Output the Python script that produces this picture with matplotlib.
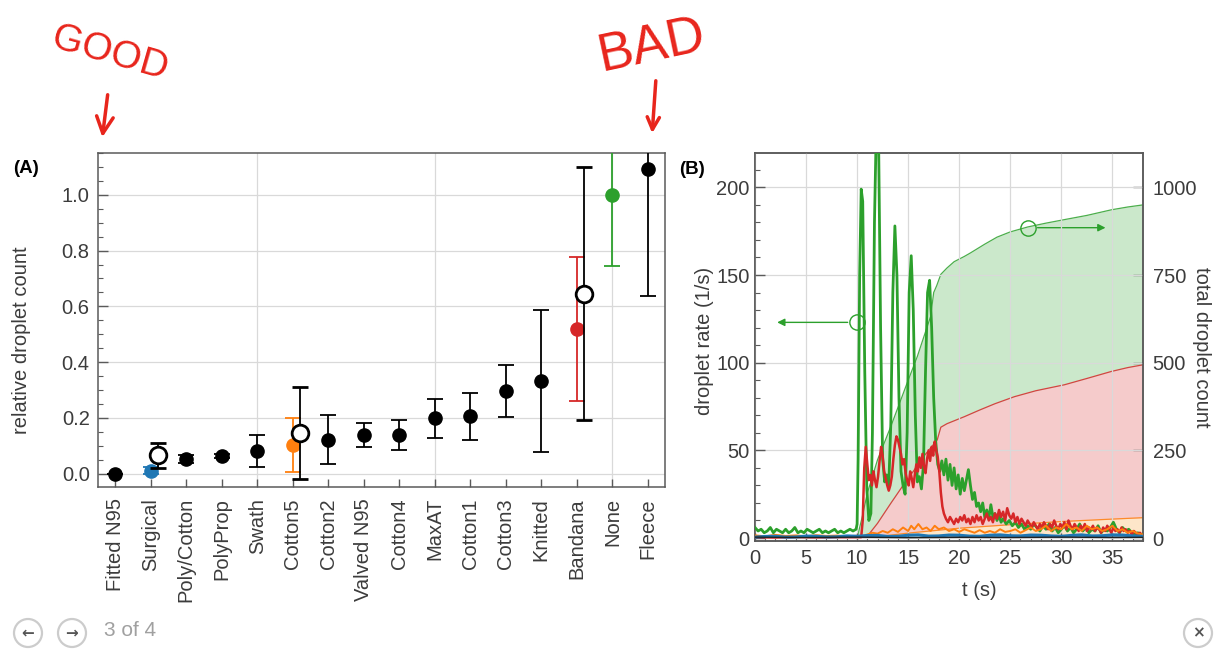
import numpy as np
import matplotlib
matplotlib.use('Agg')
import matplotlib.pyplot as plt
from matplotlib.ticker import MultipleLocator
from matplotlib.patches import Circle

plt.rcParams['font.family'] = ['Liberation Sans', 'DejaVu Sans']

# ---- (A) relative droplet count per mask ----
masks = ['Fitted N95', 'Surgical', 'Poly/Cotton', 'PolyProp', 'Swath', 'Cotton5', 'Cotton2',
         'Valved N95', 'Cotton4', 'MaxAT', 'Cotton1', 'Cotton3', 'Knitted', 'Bandana', 'None', 'Fleece']
rel_mean = [0.0, 0.01, 0.052, 0.062, 0.082, 0.104, 0.122, 0.139, 0.14, 0.199, 0.206, 0.296, 0.332, 0.517, 1.0, 1.092]
rel_low = [0.0, 0.0, 0.038, 0.055, 0.025, 0.005, 0.035, 0.097, 0.086, 0.128, 0.122, 0.203, 0.077, 0.26, 0.745, 0.638]
rel_high = [0.0, 0.022, 0.068, 0.07, 0.14, 0.2, 0.21, 0.181, 0.193, 0.269, 0.29, 0.388, 0.586, 0.776, 1.25, 1.5]

# second measurement (open circles)
open_masks = ['Surgical', 'Cotton5', 'Bandana']
open_mean = [0.065, 0.147, 0.646]
open_low = [0.02, -0.018, 0.194]
open_high = [0.109, 0.31, 1.098]

# ---- (B) droplet rate (1/s) vs t (s) ----
green_rate = [(0.0, 6), (0.3, 4), (0.6, 5), (0.9, 3), (1.2, 4), (1.5, 6), (1.8, 3), (2.1, 5), (2.4, 4), (2.7, 3),
              (3.0, 5), (3.3, 3), (3.6, 4), (3.9, 6), (4.2, 3), (4.5, 4), (4.8, 3), (5.1, 5), (5.4, 4), (5.7, 3),
              (6.0, 4), (6.3, 5), (6.6, 3), (6.9, 4), (7.2, 3), (7.5, 4), (7.8, 5), (8.1, 3), (8.4, 4), (8.7, 3),
              (9.0, 4), (9.3, 5), (9.6, 4), (9.9, 5), (10.0, 8), (10.1, 45), (10.25, 150), (10.4, 199),
              (10.55, 192), (10.75, 95), (10.95, 28), (11.15, 10), (11.35, 14), (11.5, 60), (11.7, 180),
              (11.9, 240), (12.1, 230), (12.3, 120), (12.5, 45), (12.7, 32), (12.9, 36), (13.1, 30),
              (13.3, 65), (13.5, 140), (13.7, 178), (13.9, 150), (14.1, 80), (14.3, 38), (14.5, 30),
              (14.7, 25), (14.9, 60), (15.1, 140), (15.3, 161), (15.5, 130), (15.7, 70), (15.9, 32),
              (16.1, 35), (16.3, 28), (16.5, 42), (16.7, 95), (16.9, 140), (17.1, 147), (17.3, 120),
              (17.5, 80), (17.7, 55), (17.9, 42), (18.1, 38), (18.3, 44), (18.5, 36), (18.7, 45), (18.9, 33),
              (19.1, 42), (19.3, 30), (19.5, 40), (19.7, 28), (19.9, 36), (20.1, 25), (20.3, 34), (20.5, 27),
              (20.7, 33), (20.9, 39), (21.1, 30), (21.3, 22), (21.5, 26), (21.7, 18), (21.9, 20), (22.1, 15),
              (22.3, 20), (22.5, 12), (22.7, 16), (22.9, 11), (23.1, 19), (23.3, 12), (23.5, 14), (23.7, 10),
              (23.9, 13), (24.1, 9), (24.3, 11), (24.6, 8), (24.9, 10), (25.2, 7), (25.5, 9), (25.8, 6),
              (26.1, 8), (26.4, 5), (26.7, 7), (27.0, 5), (27.3, 8), (27.6, 6), (27.9, 4), (28.2, 7), (28.5, 5),
              (28.8, 8), (29.1, 4), (29.4, 6), (29.7, 3), (30.0, 5), (30.3, 7), (30.6, 4), (30.9, 6), (31.2, 3),
              (31.5, 5), (31.8, 8), (32.1, 4), (32.4, 6), (32.7, 3), (33.0, 5), (33.3, 4), (33.6, 7), (33.9, 3),
              (34.2, 5), (34.5, 4), (34.8, 6), (35.1, 9), (35.4, 5), (35.7, 3), (36.0, 6), (36.3, 4), (36.6, 5),
              (36.9, 3), (37.2, 2), (37.5, 3), (37.8, 1), (38.0, 2)]

red_rate = [(0.0, 0.5), (2.0, 0.3), (4.0, 0.6), (6.0, 0.4), (8.0, 0.5), (10.4, 0.5), (10.55, 10), (10.7, 40),
            (10.85, 52), (11.0, 42), (11.15, 33), (11.3, 36), (11.45, 30), (11.6, 38), (11.75, 33), (11.9, 29),
            (12.05, 35), (12.2, 44), (12.35, 52), (12.5, 47), (12.65, 38), (12.8, 34), (12.95, 30), (13.1, 27),
            (13.25, 30), (13.4, 35), (13.55, 45), (13.7, 53), (13.85, 58), (14.0, 56), (14.15, 52), (14.3, 48),
            (14.45, 42), (14.6, 45), (14.75, 37), (14.9, 33), (15.05, 30), (15.2, 38), (15.35, 34), (15.5, 29),
            (15.65, 36), (15.8, 42), (15.95, 38), (16.1, 46), (16.25, 40), (16.4, 48), (16.55, 41), (16.7, 37),
            (16.85, 45), (17.0, 50), (17.15, 44), (17.3, 52), (17.45, 47), (17.6, 55), (17.75, 50), (17.9, 46),
            (18.05, 38), (18.2, 26), (18.35, 18), (18.5, 14), (18.7, 11), (18.9, 9), (19.1, 12), (19.3, 10),
            (19.5, 8), (19.7, 11), (19.9, 9), (20.1, 12), (20.3, 10), (20.5, 13), (20.7, 9), (20.9, 11),
            (21.1, 8), (21.3, 12), (21.5, 9), (21.7, 13), (21.9, 10), (22.1, 12), (22.3, 8), (22.5, 11),
            (22.7, 14), (22.9, 10), (23.1, 12), (23.3, 9), (23.5, 14), (23.7, 11), (23.9, 16), (24.1, 12),
            (24.3, 15), (24.5, 10), (24.7, 17), (24.9, 13), (25.1, 11), (25.3, 14), (25.5, 9), (25.7, 12),
            (25.9, 8), (26.1, 11), (26.3, 9), (26.5, 7), (26.7, 10), (26.9, 8), (27.1, 6), (27.3, 9), (27.5, 7),
            (27.7, 5), (27.9, 8), (28.1, 6), (28.3, 9), (28.5, 7), (28.7, 5), (28.9, 8), (29.1, 6), (29.3, 10),
            (29.5, 7), (29.7, 5), (29.9, 8), (30.1, 6), (30.3, 9), (30.5, 5), (30.7, 10), (30.9, 7), (31.1, 5),
            (31.3, 8), (31.5, 6), (31.7, 4), (31.9, 7), (32.1, 5), (32.3, 8), (32.5, 4), (32.7, 6), (32.9, 5),
            (33.1, 7), (33.3, 4), (33.5, 6), (33.7, 5), (33.9, 3), (34.1, 6), (34.3, 4), (34.5, 7), (34.7, 5),
            (34.9, 3), (35.1, 6), (35.3, 4), (35.5, 5), (35.7, 3), (35.9, 6), (36.1, 4), (36.3, 5), (36.5, 3),
            (36.7, 4), (36.9, 2), (37.1, 4), (37.3, 3), (37.5, 2), (37.7, 3), (38.0, 1)]

orange_rate = [(0, 1.5), (1, 1), (2, 1.8), (3, 1.2), (4, 1.5), (5, 1), (6, 1.6), (7, 1.2), (8, 1.4), (9, 1),
               (10, 1.3), (10.5, 1), (11, 2), (11.5, 3), (12, 2.5), (12.5, 4), (13, 3), (13.5, 5), (14, 3.5),
               (14.5, 6), (15, 4), (15.3, 7), (15.6, 5), (16, 8), (16.4, 5), (16.8, 6), (17.2, 4), (17.6, 7),
               (18, 5), (18.5, 6), (19, 4), (19.5, 5), (20, 3.5), (20.5, 5), (21, 4), (21.5, 3), (22, 4.5),
               (22.5, 3), (23, 4), (23.5, 3), (24, 5), (24.5, 3.5), (25, 4), (25.5, 5), (26, 3), (26.5, 4.5),
               (27, 6), (27.5, 4), (28, 5), (28.5, 7), (29, 4), (29.5, 6), (30, 5), (30.5, 8), (31, 5), (31.5, 6),
               (32, 4), (32.5, 7), (33, 5), (33.5, 6), (34, 4), (34.5, 5), (35, 7), (35.5, 4), (36, 5), (36.5, 3),
               (37, 4), (37.5, 2.5), (38, 2)]

blue_rate = [(0, 0.5), (1, 0.9), (2, 1), (3, 0.5), (4, 0.6), (5, 1.1), (6, 1), (7, 0.6), (8, 0.7), (9, 1.2),
             (10, 1), (11, 1.4), (12, 1.5), (13, 0.9), (14, 1), (15, 1.6), (16, 1.8), (17, 1.1), (18, 1.2),
             (19, 1.7), (20, 1.6), (21, 1.1), (22, 1), (23, 1.6), (24, 1.8), (25, 1.3), (26, 1.2), (27, 1.7),
             (28, 1.6), (29, 1.2), (30, 1), (31, 1.5), (32, 1.8), (33, 1.2), (34, 1.3), (35, 1.8), (36, 1.7),
             (37, 1.2), (38, 1)]

black_rate = [(0, 0.5), (5, 0.3), (10, 0.5), (15, 0.2), (20, 0.4), (25, 0.3), (30, 0.5), (35, 0.3), (38, 0.4)]

# ---- (B) total droplet count vs t (s) ----
green_total = [(0, 0), (10.0, 0), (10.5, 60), (11.0, 128), (12.0, 223), (13.3, 318), (14.9, 442), (15.9, 518),
               (17.2, 632), (17.5, 700), (17.8, 720), (18.2, 752), (18.8, 770), (19.5, 788), (20.5, 803),
               (21.1, 813), (22.5, 838), (23.7, 858), (25.0, 873), (26.7, 887), (28.5, 898), (30.3, 908),
               (32.5, 920), (34.9, 936), (36.5, 944), (38.0, 950)]
red_total = [(0, 0), (10.6, 0), (11.0, 5), (12.0, 42), (13.3, 99), (14.5, 150), (15.5, 190), (16.5, 232),
             (17.85, 280), (18.2, 316), (18.8, 326), (20.5, 346), (22.0, 365), (23.5, 383), (25.4, 403),
             (27.5, 420), (30.3, 437), (32.5, 455), (34.9, 475), (36.5, 486), (38.0, 494)]
orange_total = [(0, 0), (10.5, 0), (12, 4), (15, 14), (20, 28), (25, 38), (30, 47), (35, 54), (38, 58)]
blue_total = [(0, 0), (10, 1), (20, 3), (30, 5), (38, 6)]

W, H = 1221, 650
BLUE, ORANGE, GREEN, RED = '#1f77b4', '#ff7f0e', '#2ca02c', '#d62728'
TXT = '#3c3c3c'
SPINE = '#5a5a5a'
GRID = '#d9d9d9'
FS = 14.5


def px_box(l, t, r, b):
    return [l / W, 1 - b / H, (r - l) / W, (b - t) / H]


def style_spines(ax):
    for s in ax.spines.values():
        s.set_color(SPINE)
        s.set_linewidth(1.1)


fig = plt.figure(figsize=(W / 100, H / 100), dpi=100)

# ===================== panel A =====================
axA = fig.add_axes(px_box(98, 153, 665, 487))
xpos = np.arange(1, len(masks) + 1)
highlight = {'Surgical': BLUE, 'Cotton5': ORANGE, 'Bandana': RED, 'None': GREEN}

for xi, name, m, lo, hi in zip(xpos, masks, rel_mean, rel_low, rel_high):
    c = highlight.get(name, 'black')
    axA.errorbar(xi, m, yerr=[[m - lo], [hi - m]], fmt='o', color=c, ms=9.5,
                 elinewidth=1.3, capsize=6, capthick=1.3, zorder=3)

for name, m, lo, hi in zip(open_masks, open_mean, open_low, open_high):
    xi = masks.index(name) + 1 + 0.2
    axA.errorbar(xi, m, yerr=[[m - lo], [hi - m]], fmt='o', mfc='white', mec='black', mew=2,
                 ms=12, ecolor='black', elinewidth=1.3, capsize=6, capthick=1.3, zorder=4)

axA.set_xlim(0.52, 16.48)
axA.set_ylim(-0.048, 1.15)
axA.set_xticks(xpos)
axA.set_xticklabels(masks, rotation=90)
axA.set_yticks(np.arange(0, 1.01, 0.2))
axA.set_yticklabels(['%.1f' % v for v in np.arange(0, 1.01, 0.2)])
axA.yaxis.set_minor_locator(MultipleLocator(0.05))
axA.tick_params(axis='x', direction='in', length=6, width=1, color=SPINE, pad=8,
                labelsize=FS, labelcolor=TXT)
axA.tick_params(axis='y', which='major', direction='in', length=7, width=1, color=SPINE, pad=6,
                labelsize=FS, labelcolor=TXT)
axA.tick_params(axis='y', which='minor', direction='in', length=3.5, width=0.8, color=SPINE)
axA.grid(axis='y', which='major', color=GRID, lw=0.9, zorder=0)
for gx in (5, 10, 15):
    axA.axvline(gx, color=GRID, lw=0.9, zorder=0)
axA.set_axisbelow(True)
style_spines(axA)

# ===================== panel B =====================
axB = fig.add_axes(px_box(755, 153, 1143, 541))
axC = axB.twinx()
axB.set_zorder(axC.get_zorder() + 1)
axB.patch.set_visible(False)

# cumulative counts (right axis) with fills
fills = [(green_total, GREEN, '#cbe8cb'), (red_total, RED, '#f5cbcb'),
         (orange_total, ORANGE, '#fde6c9'), (blue_total, BLUE, '#cfe0ee')]
for series, lc, fc in fills:
    t, v = np.array(series, dtype=float).T
    axC.fill_between(t, 0, v, color=fc, lw=0, zorder=1)
for series, lc, fc in fills:
    t, v = np.array(series, dtype=float).T
    axC.plot(t, v, color=lc, lw=0.9, alpha=0.85, zorder=2)

# droplet rate (left axis)
for series, c, lw in [(green_rate, GREEN, 2.0), (red_rate, RED, 1.8), (orange_rate, ORANGE, 1.4),
                      (blue_rate, BLUE, 2.2), (black_rate, '#222222', 1.0)]:
    t, v = np.array(series, dtype=float).T
    axB.plot(t, v, color=c, lw=lw, zorder=3)

axB.set_xlim(0, 38)
axB.set_ylim(-1.7, 219.6)
axC.set_ylim(-8.5, 1098)
axB.set_xticks(np.arange(0, 36, 5))
axB.set_yticks(np.arange(0, 201, 50))
axC.set_yticks(np.arange(0, 1001, 250))
axB.xaxis.set_minor_locator(MultipleLocator(1))
axB.yaxis.set_minor_locator(MultipleLocator(10))
axB.tick_params(axis='x', which='major', direction='in', length=6, width=1, color=SPINE, pad=6,
                labelsize=FS, labelcolor=TXT)
axB.tick_params(axis='x', which='minor', direction='in', length=3, width=0.8, color=SPINE)
axB.tick_params(axis='y', which='major', direction='in', length=7, width=1, color=SPINE, pad=4,
                labelsize=FS, labelcolor=TXT)
axB.tick_params(axis='y', which='minor', direction='in', length=3.5, width=0.8, color=SPINE)
axC.tick_params(axis='y', direction='in', length=7, width=1, color=SPINE, pad=7,
                labelsize=FS, labelcolor=TXT)
axB.grid(which='major', color=GRID, lw=0.9, zorder=0)
style_spines(axB)
style_spines(axC)

# circle + arrow markers for which axis each curve belongs to
axB.plot(10, 123, 'o', mfc='none', mec=GREEN, ms=11, mew=1, zorder=5)
axB.annotate('', xy=(1.9, 123), xytext=(9.35, 123),
             arrowprops=dict(arrowstyle='-|>', color=GREEN, lw=1, mutation_scale=11), zorder=5)
axC.plot(26.7, 885, 'o', mfc='none', mec=GREEN, ms=11, mew=1, zorder=5)
axC.annotate('', xy=(34.6, 885), xytext=(27.4, 885),
             arrowprops=dict(arrowstyle='-|>', color=GREEN, lw=1, mutation_scale=11), zorder=5)

# axis labels and panel letters
fig.text(22 / W, 1 - 340 / H, 'relative droplet count', rotation=90, ha='center', va='center',
         fontsize=FS, color=TXT)
fig.text(705 / W, 1 - 341 / H, 'droplet rate (1/s)', rotation=90, ha='center', va='center',
         fontsize=FS, color=TXT)
fig.text(1201 / W, 1 - 347 / H, 'total droplet count', rotation=270, ha='center', va='center',
         fontsize=FS, color=TXT)
fig.text(979 / W, 1 - 591 / H, 't (s)', ha='center', va='center', fontsize=FS, color=TXT)
fig.text(26 / W, 1 - 168 / H, '(A)', ha='center', va='center', fontsize=13.5, fontweight='bold')
fig.text(692 / W, 1 - 170 / H, '(B)', ha='center', va='center', fontsize=13.5, fontweight='bold')

# ===================== overlay: hand notes and viewer controls =====================
ov = fig.add_axes([0, 0, 1, 1])
ov.set_xlim(0, W)
ov.set_ylim(H, 0)
ov.axis('off')
HAND = '#e8251c'
hand_font = ['Liberation Sans Narrow', 'Liberation Sans', 'DejaVu Sans']
ov.text(110, 54, 'GOOD', color=HAND, fontsize=28, family=hand_font, rotation=-16,
        ha='center', va='center')
ov.text(652, 46, 'BAD', color=HAND, fontsize=38, family=hand_font, rotation=12,
        ha='center', va='center')
ov.annotate('', xy=(102, 140), xytext=(108, 92),
            arrowprops=dict(arrowstyle='->', color=HAND, lw=2.5, mutation_scale=30))
ov.annotate('', xy=(652, 136), xytext=(656, 78),
            arrowprops=dict(arrowstyle='->', color=HAND, lw=2.5, mutation_scale=22))

for cx, glyph in [(28, '\u2190'), (72, '\u2192'), (1198, '\u00d7')]:
    ov.add_patch(Circle((cx, 633), 14, fill=False, ec='#cccccc', lw=1.6))
    ov.text(cx, 633, glyph, ha='center', va='center', fontsize=11, fontweight='bold',
            color='#555555', family=['DejaVu Sans'])
ov.text(104, 631, '3 of 4', ha='left', va='center', fontsize=15, color='#a0a0a0')

plt.savefig('out.png', dpi=100)
